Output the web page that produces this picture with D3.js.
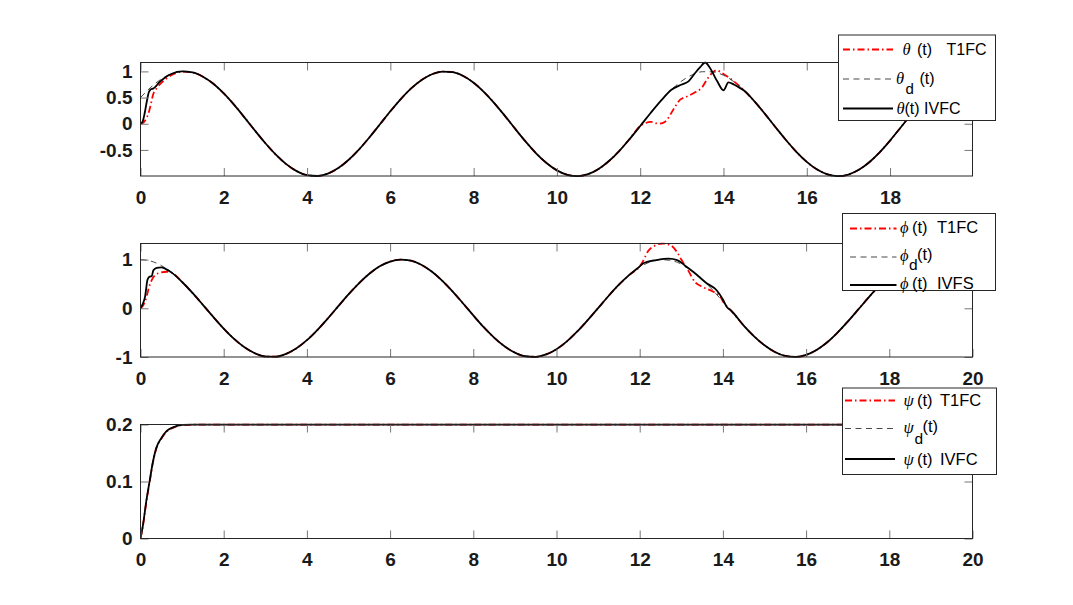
<!DOCTYPE html>
<html><head><meta charset="utf-8">
<script src="https://cdn.jsdelivr.net/npm/d3@7"></script>
<style>body{margin:0;background:#fff}svg{display:block}</style>
</head><body><svg id="c" width="1073" height="605"></svg>
<script>
// ---------------- data ----------------
const tGrid = [0,0.25,0.5,0.75,1,1.25,1.5,1.75,2,2.25,2.5,2.75,3,3.25,3.5,3.75,4,4.25,4.5,4.75,5,5.25,5.5,5.75,6,6.25,6.5,6.75,7,7.25,7.5,7.75,8,8.25,8.5,8.75,9,9.25,9.5,9.75,10,10.25,10.5,10.75,11,11.25,11.5,11.75,12,12.25,12.5,12.75,13,13.25,13.5,13.75,14,14.25,14.5,14.75,15,15.25,15.5,15.75,16,16.25,16.5,16.75,17,17.25,17.5,17.75,18,18.25,18.5,18.75,19,19.25,19.5,19.75,20];

const thetaD = [0.500,0.699,0.854,0.956,0.999,0.980,0.899,0.763,0.579,0.360,0.118,-0.132,-0.373,-0.590,-0.772,-0.905,-0.982,-0.998,-0.952,-0.847,-0.688,-0.488,-0.257,-0.010,0.238,0.471,0.675,0.836,0.946,0.997,0.986,0.913,0.784,0.606,0.391,0.151,-0.099,-0.342,-0.564,-0.750,-0.891,-0.975,-1.000,-0.962,-0.864,-0.712,-0.517,-0.288,-0.043,0.206,0.442,0.650,0.818,0.935,0.994,0.991,0.926,0.804,0.632,0.421,0.183,-0.066,-0.310,-0.536,-0.728,-0.875,-0.968,-1.000,-0.970,-0.880,-0.735,-0.545,-0.321,-0.076,0.173,0.411,0.624,0.798,0.922,0.989,0.995];

const phiD = [1.000,0.969,0.878,0.732,0.540,0.315,0.071,-0.178,-0.416,-0.628,-0.801,-0.924,-0.990,-0.994,-0.936,-0.821,-0.654,-0.446,-0.211,0.038,0.284,0.512,0.709,0.861,0.960,0.999,0.977,0.893,0.754,0.568,0.347,0.104,-0.146,-0.388,-0.602,-0.781,-0.911,-0.985,-0.997,-0.948,-0.839,-0.678,-0.476,-0.243,0.004,0.252,0.484,0.685,0.844,0.950,0.998,0.983,0.907,0.775,0.595,0.378,0.137,-0.112,-0.354,-0.575,-0.760,-0.897,-0.978,-0.999,-0.958,-0.857,-0.703,-0.504,-0.275,-0.029,0.220,0.454,0.660,0.826,0.940,0.995,0.989,0.921,0.796,0.622,0.409];

const thetaT1 = [[0,0],[0.05,0.01],[0.1,0.05],[0.15,0.12],[0.2,0.22],[0.25,0.38],[0.3,0.55],[0.4,0.69],[0.5,0.78],[0.6,0.85],[0.75,0.93],[1,0.995],[1.25,0.980],[1.5,0.899],[1.75,0.763],[2,0.579],[2.25,0.360],[2.5,0.118],[2.75,-0.132],[3,-0.373],[3.25,-0.590],[3.5,-0.772],[3.75,-0.905],[4,-0.982],[4.25,-0.998],[4.5,-0.952],[4.75,-0.847],[5,-0.688],[5.25,-0.488],[5.5,-0.257],[5.75,-0.010],[6,0.238],[6.25,0.471],[6.5,0.675],[6.75,0.836],[7,0.946],[7.25,0.997],[7.5,0.986],[7.75,0.913],[8,0.784],[8.25,0.606],[8.5,0.391],[8.75,0.151],[9,-0.099],[9.25,-0.342],[9.5,-0.564],[9.75,-0.750],[10,-0.891],[10.25,-0.975],[10.5,-1.000],[10.75,-0.962],[11,-0.864],[11.25,-0.712],[11.5,-0.517],[11.75,-0.288],[12,-0.043],[12.12,0.01],[12.25,0.035],[12.45,0.0],[12.6,0.04],[12.72,0.17],[12.84,0.33],[12.96,0.46],[13.12,0.52],[13.32,0.60],[13.49,0.70],[13.6,0.84],[13.73,0.97],[13.83,1.02],[14,0.95],[14.25,0.81],[14.5,0.632],[14.75,0.421],[15,0.183],[15.25,-0.066],[15.5,-0.310],[15.75,-0.536],[16,-0.728],[16.25,-0.875],[16.5,-0.968],[16.75,-1.000],[17,-0.970],[17.25,-0.880],[17.5,-0.735],[17.75,-0.545],[18,-0.321],[18.25,-0.076],[18.5,0.173],[18.75,0.411],[19,0.624],[19.25,0.798],[19.5,0.922],[19.75,0.989],[20,0.995]];

const thetaIV = [[0,0],[0.05,0.04],[0.1,0.2],[0.15,0.42],[0.2,0.6],[0.25,0.66],[0.3,0.67],[0.35,0.7],[0.45,0.79],[0.6,0.89],[0.75,0.956],[1,0.999],[1.25,0.980],[1.5,0.899],[1.75,0.763],[2,0.579],[2.25,0.360],[2.5,0.118],[2.75,-0.132],[3,-0.373],[3.25,-0.590],[3.5,-0.772],[3.75,-0.905],[4,-0.982],[4.25,-0.998],[4.5,-0.952],[4.75,-0.847],[5,-0.688],[5.25,-0.488],[5.5,-0.257],[5.75,-0.010],[6,0.238],[6.25,0.471],[6.5,0.675],[6.75,0.836],[7,0.946],[7.25,0.997],[7.5,0.986],[7.75,0.913],[8,0.784],[8.25,0.606],[8.5,0.391],[8.75,0.151],[9,-0.099],[9.25,-0.342],[9.5,-0.564],[9.75,-0.750],[10,-0.891],[10.25,-0.975],[10.5,-1.000],[10.75,-0.962],[11,-0.864],[11.25,-0.712],[11.5,-0.517],[11.75,-0.288],[12,-0.043],[12.25,0.206],[12.5,0.442],[12.75,0.650],[13,0.75],[13.16,0.81],[13.32,0.97],[13.44,1.08],[13.56,1.17],[13.68,1.06],[13.85,0.81],[14,0.64],[14.12,0.79],[14.25,0.75],[14.4,0.68],[14.5,0.632],[14.75,0.421],[15,0.183],[15.25,-0.066],[15.5,-0.310],[15.75,-0.536],[16,-0.728],[16.25,-0.875],[16.5,-0.968],[16.75,-1.000],[17,-0.970],[17.25,-0.880],[17.5,-0.735],[17.75,-0.545],[18,-0.321],[18.25,-0.076],[18.5,0.173],[18.75,0.411],[19,0.624],[19.25,0.798],[19.5,0.922],[19.75,0.989],[20,0.995]];

const phiT1 = [[0,0],[0.05,0.04],[0.1,0.12],[0.15,0.25],[0.2,0.42],[0.27,0.58],[0.35,0.68],[0.47,0.73],[0.63,0.75],[0.75,0.732],[1,0.540],[1.25,0.315],[1.5,0.071],[1.75,-0.178],[2,-0.416],[2.25,-0.628],[2.5,-0.801],[2.75,-0.924],[3,-0.990],[3.25,-0.994],[3.5,-0.936],[3.75,-0.821],[4,-0.654],[4.25,-0.446],[4.5,-0.211],[4.75,0.038],[5,0.284],[5.25,0.512],[5.5,0.709],[5.75,0.861],[6,0.960],[6.25,0.999],[6.5,0.977],[6.75,0.893],[7,0.754],[7.25,0.568],[7.5,0.347],[7.75,0.104],[8,-0.146],[8.25,-0.388],[8.5,-0.602],[8.75,-0.781],[9,-0.911],[9.25,-0.985],[9.5,-0.997],[9.75,-0.948],[10,-0.839],[10.25,-0.678],[10.5,-0.476],[10.75,-0.243],[11,0.004],[11.25,0.252],[11.5,0.484],[11.75,0.685],[12,0.86],[12.1,1.0],[12.2,1.17],[12.35,1.28],[12.55,1.33],[12.75,1.29],[12.9,1.15],[13,1.0],[13.15,0.8],[13.33,0.54],[13.53,0.43],[13.77,0.34],[13.93,0.25],[14.01,0.13],[14.18,-0.03],[14.5,-0.354],[14.75,-0.575],[15,-0.760],[15.25,-0.897],[15.5,-0.978],[15.75,-0.999],[16,-0.958],[16.25,-0.857],[16.5,-0.703],[16.75,-0.504],[17,-0.275],[17.25,-0.029],[17.5,0.220],[17.75,0.454],[18,0.660],[18.25,0.826],[18.5,0.940],[18.75,0.995],[19,0.989],[19.25,0.921],[19.5,0.796],[19.75,0.622],[20,0.409]];

const phiIV = [[0,0],[0.05,0.08],[0.11,0.24],[0.17,0.59],[0.22,0.65],[0.27,0.66],[0.31,0.78],[0.39,0.83],[0.5,0.84],[0.6,0.81],[0.75,0.732],[1,0.540],[1.25,0.315],[1.5,0.071],[1.75,-0.178],[2,-0.416],[2.25,-0.628],[2.5,-0.801],[2.75,-0.924],[3,-0.990],[3.25,-0.994],[3.5,-0.936],[3.75,-0.821],[4,-0.654],[4.25,-0.446],[4.5,-0.211],[4.75,0.038],[5,0.284],[5.25,0.512],[5.5,0.709],[5.75,0.861],[6,0.960],[6.25,0.999],[6.5,0.977],[6.75,0.893],[7,0.754],[7.25,0.568],[7.5,0.347],[7.75,0.104],[8,-0.146],[8.25,-0.388],[8.5,-0.602],[8.75,-0.781],[9,-0.911],[9.25,-0.985],[9.5,-0.997],[9.75,-0.948],[10,-0.839],[10.25,-0.678],[10.5,-0.476],[10.75,-0.243],[11,0.004],[11.25,0.252],[11.5,0.484],[11.75,0.685],[12,0.86],[12.1,0.93],[12.4,0.99],[12.7,1.02],[12.9,0.99],[13.1,0.87],[13.3,0.74],[13.6,0.52],[13.85,0.37],[14,0.18],[14.1,0.02],[14.2,-0.05],[14.5,-0.354],[14.75,-0.575],[15,-0.760],[15.25,-0.897],[15.5,-0.978],[15.75,-0.999],[16,-0.958],[16.25,-0.857],[16.5,-0.703],[16.75,-0.504],[17,-0.275],[17.25,-0.029],[17.5,0.220],[17.75,0.454],[18,0.660],[18.25,0.826],[18.5,0.940],[18.75,0.995],[19,0.989],[19.25,0.921],[19.5,0.796],[19.75,0.622],[20,0.409]];

const psiD = [[0,0.2],[20,0.2]];
const psiT1 = [[0,0],[0.06,0.023],[0.14,0.064],[0.22,0.099],[0.3,0.134],[0.38,0.158],[0.5,0.175],[0.62,0.187],[0.78,0.194],[1,0.199],[1.3,0.2],[20,0.2]];
const psiIV = [[0,0],[0.06,0.024],[0.14,0.066],[0.22,0.101],[0.3,0.135],[0.38,0.159],[0.5,0.176],[0.62,0.188],[0.78,0.195],[1,0.1995],[1.3,0.2],[20,0.2]];

const xTicksTop = [0,2,4,6,8,10,12,14,16,18];
const xTicksFull = [0,2,4,6,8,10,12,14,16,18,20];
const yTicksTheta = [-0.5,0,0.5,1];
const yTicksPhi = [-1,0,1];
const yTicksPsi = [0,0.1,0.2];

// ---------------- drawing ----------------
const svg = d3.select('#c');
const SANS = '"Liberation Sans", Arial, sans-serif';
const SERIF = '"Liberation Serif", "DejaVu Serif", serif';
const X0 = 140.5, X1 = 972.5;
const styles = {
  red:  {stroke:'#ff0000', width:1.8, dash:'7,3,1.5,3'},
  dash: {stroke:'#333333', width:0.9, dash:'6,4.5'},
  blk:  {stroke:'#000000', width:1.8, dash:null}
};

const panels = [
  {top:62.5, bottom:176, xMax:19.98, yDom:[-0.998,1.17], xt:xTicksTop, yt:yTicksTheta,
   series:[[thetaT1,'red'],[d3.zip(tGrid,thetaD),'dash'],[thetaIV,'blk']]},
  {top:243.5, bottom:357, xMax:20, yDom:[-1,1.33], xt:xTicksFull, yt:yTicksPhi,
   series:[[phiT1,'red'],[d3.zip(tGrid,phiD),'dash'],[phiIV,'blk']]},
  {top:424.5, bottom:538.5, xMax:20, yDom:[0,0.2], xt:xTicksFull, yt:yTicksPsi,
   series:[[psiT1,'red'],[psiD,'dash'],[psiIV,'blk']]}
];

panels.forEach((p,i)=>{
  const x = d3.scaleLinear().domain([0,p.xMax]).range([X0,X1]);
  const y = d3.scaleLinear().domain(p.yDom).range([p.bottom,p.top]);
  const g = svg.append('g');
  const cid = 'clip'+i;
  svg.append('clipPath').attr('id',cid).append('rect')
    .attr('x',X0).attr('y',p.top-1).attr('width',X1-X0).attr('height',p.bottom-p.top+2);

  const line = d3.line().x(d=>x(d[0])).y(d=>y(d[1])).curve(d3.curveMonotoneX);
  p.series.forEach(([data,st])=>{
    const s = styles[st];
    g.append('path').attr('d',line(data)).attr('clip-path','url(#'+cid+')')
      .attr('fill','none').attr('stroke',s.stroke).attr('stroke-width',s.width)
      .attr('stroke-dasharray',s.dash).attr('stroke-linejoin','round');
  });

  const fmt = d=>String(d);
  const ax = (gen, tr)=>{
    const a = g.append('g').attr('transform',tr).call(gen);
    a.select('.domain').remove();
    a.selectAll('.tick line').attr('stroke','#777').attr('stroke-width',1);
    a.selectAll('text').attr('font-family',SANS).attr('font-weight','bold')
      .attr('font-size',19).attr('fill','#1a1a1a');
    return a;
  };
  ax(d3.axisBottom(x).tickValues(p.xt).tickFormat(fmt).tickSizeInner(-8).tickSizeOuter(0).tickPadding(14.5),
     `translate(0,${p.bottom})`);
  ax(d3.axisTop(x).tickValues(p.xt).tickFormat('').tickSizeInner(-8).tickSizeOuter(0),
     `translate(0,${p.top})`);
  ax(d3.axisLeft(y).tickValues(p.yt).tickFormat(fmt).tickSizeInner(-8).tickSizeOuter(0).tickPadding(8),
     `translate(${X0},0)`);
  ax(d3.axisRight(y).tickValues(p.yt).tickFormat('').tickSizeInner(-8).tickSizeOuter(0),
     `translate(${X1},0)`);
  g.append('rect').attr('x',X0).attr('y',p.top).attr('width',X1-X0).attr('height',p.bottom-p.top)
    .attr('fill','none').attr('stroke','#262626').attr('stroke-width',1);
});

// ---------------- legends ----------------
const legends = [
  {box:[838.5,35,157,85.5], fs:16, rows:[
    {st:'red', ly:49.5, lx:[843,893], parts:[
      {t:'θ',x:902.5,y:55,g:1},{t:'(t)',x:917,y:55},{t:'T1FC',x:946.5,y:55}]},
    {st:'dash', ly:79, lx:[843,893], parts:[
      {t:'θ',x:896,y:84,g:1},{t:'d',x:905.5,y:93.5,s:1},{t:'(t)',x:919.5,y:83.5}]},
    {st:'blk', ly:108.5, lx:[843,893], parts:[
      {t:'θ',x:896.5,y:114,g:1},{t:'(t) IVFC',x:904.5,y:114}]}
  ]},
  {box:[842.5,213.5,153,77], fs:16.5, rows:[
    {st:'red', ly:228.5, lx:[850,896.5], parts:[
      {t:'ϕ',x:900,y:233,g:1},{t:'(t)',x:912,y:233},{t:'T1FC',x:937,y:233}]},
    {st:'dash', ly:257, lx:[850,896.5], parts:[
      {t:'ϕ',x:900,y:260.5,g:1},{t:'d',x:909,y:270,s:1},{t:'(t)',x:917,y:259.5}]},
    {st:'blk', ly:285, lx:[850,896.5], parts:[
      {t:'ϕ',x:900,y:289,g:1},{t:'(t)',x:912,y:289},{t:'IVFS',x:937,y:289}]}
  ]},
  {box:[842.5,388,154,86.5], fs:16.5, rows:[
    {st:'red', ly:400.5, lx:[845,895], parts:[
      {t:'ψ',x:903.5,y:406,g:1},{t:'(t)',x:917,y:406},{t:'T1FC',x:940,y:406}]},
    {st:'dash', ly:428.5, lx:[845,895], parts:[
      {t:'ψ',x:903.5,y:433,g:1},{t:'d',x:914.5,y:443.5,s:1},{t:'(t)',x:922.5,y:431.5}]},
    {st:'blk', ly:459, lx:[845,895], parts:[
      {t:'ψ',x:903.5,y:464.5,g:1},{t:'(t)',x:917,y:464.5},{t:'IVFC',x:940,y:464.5}]}
  ]}
];

legends.forEach(L=>{
  const g = svg.append('g');
  g.append('rect').attr('x',L.box[0]).attr('y',L.box[1]).attr('width',L.box[2]).attr('height',L.box[3])
    .attr('fill','#fff').attr('stroke','#262626').attr('stroke-width',1);
  L.rows.forEach(r=>{
    const s = styles[r.st];
    g.append('line').attr('x1',r.lx[0]).attr('x2',r.lx[1]).attr('y1',r.ly).attr('y2',r.ly)
      .attr('stroke',s.stroke).attr('stroke-width',s.width).attr('stroke-dasharray',s.dash);
    r.parts.forEach(pt=>{
      g.append('text').attr('x',pt.x).attr('y',pt.y).text(pt.t)
        .attr('font-family',pt.g?SERIF:SANS).attr('font-style',pt.g?'italic':'normal')
        .attr('font-size',pt.g?16.5:(pt.s?L.fs-1:L.fs)).attr('fill','#000');
    });
  });
});
</script></body></html>
